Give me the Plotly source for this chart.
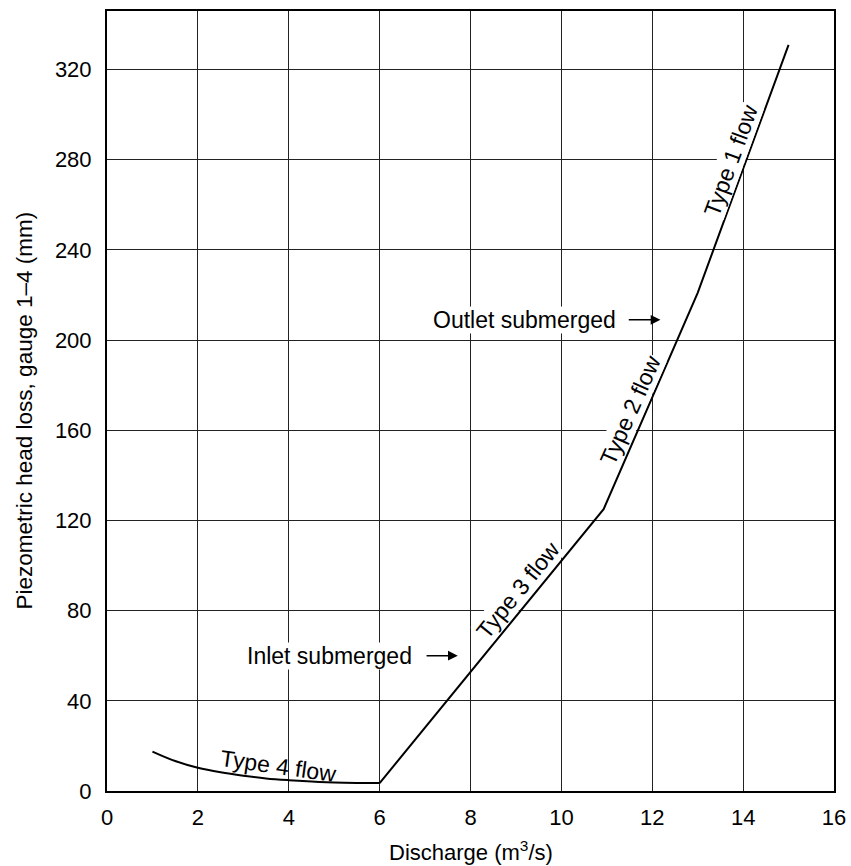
import plotly.graph_objects as go

# Type 4 flow (curved part)
type4_x = [1.0, 1.5, 2.0, 2.5, 3.0, 3.5, 4.0, 4.5, 5.0, 5.5, 6.0]
type4_y = [17.5, 13.3, 10.3, 8.3, 6.8, 5.6, 4.8, 4.2, 3.8, 3.6, 3.5]

# Type 3 / 2 / 1 flow (straight segments)
main_x = [6.0, 10.93, 13.0, 15.0]
main_y = [3.5, 125.0, 221.0, 331.0]

x_ticks = [0, 2, 4, 6, 8, 10, 12, 14, 16]
y_ticks = [0, 40, 80, 120, 160, 200, 240, 280, 320]

FONT = "Liberation Sans, Arial, sans-serif"

fig = go.Figure()
fig.add_trace(go.Scatter(x=type4_x, y=type4_y, mode="lines",
                         line=dict(color="black", width=2, shape="spline"),
                         showlegend=False, hoverinfo="skip"))
fig.add_trace(go.Scatter(x=main_x, y=main_y, mode="lines",
                         line=dict(color="black", width=2),
                         showlegend=False, hoverinfo="skip"))

ann_font = dict(family=FONT, size=23, color="black")
annotations = [
    dict(x=13.73, y=280, text="Type 1 flow", textangle=-70, showarrow=False,
         bgcolor="white", borderpad=0),
    dict(x=11.52, y=169, text="Type 2 flow", textangle=-66, showarrow=False,
         bgcolor="white", borderpad=0),
    dict(x=9.05, y=89, text="Type 3 flow", textangle=-51, showarrow=False,
         bgcolor="white", borderpad=0),
    dict(x=3.77, y=11, text="Type 4 flow", textangle=8, showarrow=False),
    dict(x=11.23, y=209, text="Outlet submerged", xanchor="right", showarrow=False,
         bgcolor="white", borderpad=0),
    dict(x=6.74, y=60, text="Inlet submerged", xanchor="right", showarrow=False,
         bgcolor="white", borderpad=0),
    # arrows
    dict(x=12.18, y=209, ax=11.45, ay=209, axref="x", ayref="y", text="",
         showarrow=True, arrowhead=2, arrowsize=1.3, arrowwidth=1.5, arrowcolor="black"),
    dict(x=7.72, y=60, ax=7.0, ay=60, axref="x", ayref="y", text="",
         showarrow=True, arrowhead=2, arrowsize=1.3, arrowwidth=1.5, arrowcolor="black"),
]
for a in annotations:
    a.setdefault("font", ann_font)
    a.setdefault("xref", "x")
    a.setdefault("yref", "y")

# axis titles as paper-positioned annotations
annotations.append(dict(xref="paper", yref="paper", x=-0.114, y=0.488,
                        text="Piezometric head loss, gauge 1–4 (mm)", textangle=-90,
                        showarrow=False, xanchor="center", yanchor="middle",
                        font=dict(family=FONT, size=22.5, color="black")))
annotations.append(dict(xref="paper", yref="paper", x=0.5, y=-0.0765,
                        text="Discharge (m<sup>3</sup>/s)",
                        showarrow=False, xanchor="center", yanchor="middle",
                        font=dict(family=FONT, size=22, color="black")))

fig.update_layout(
    width=851, height=866,
    margin=dict(l=107, r=17, t=11, b=75, autoexpand=False),
    paper_bgcolor="white", plot_bgcolor="white",
    font=dict(family=FONT, size=22, color="black"),
    annotations=annotations,
    xaxis=dict(range=[0, 16], tickvals=x_ticks, ticktext=[str(v) for v in x_ticks],
               showgrid=True, gridcolor="#222", gridwidth=1.2, automargin=False,
               showline=True, linecolor="black", linewidth=2, mirror=True,
               ticks="outside", ticklen=6, tickcolor="rgba(0,0,0,0)", zeroline=False,
               tickfont=dict(family=FONT, size=22, color="black")),
    yaxis=dict(range=[0, 346], tickvals=y_ticks, ticktext=[str(v) for v in y_ticks],
               showgrid=True, gridcolor="#222", gridwidth=1.2, automargin=False,
               showline=True, linecolor="black", linewidth=2, mirror=True,
               ticks="outside", ticklen=9, tickcolor="rgba(0,0,0,0)", zeroline=False,
               tickfont=dict(family=FONT, size=22, color="black")),
)

fig.write_html(
    "out.html",
    config={"displayModeBar": False},
    post_script="document.body.style.margin='0';document.body.style.overflow='hidden';",
)
